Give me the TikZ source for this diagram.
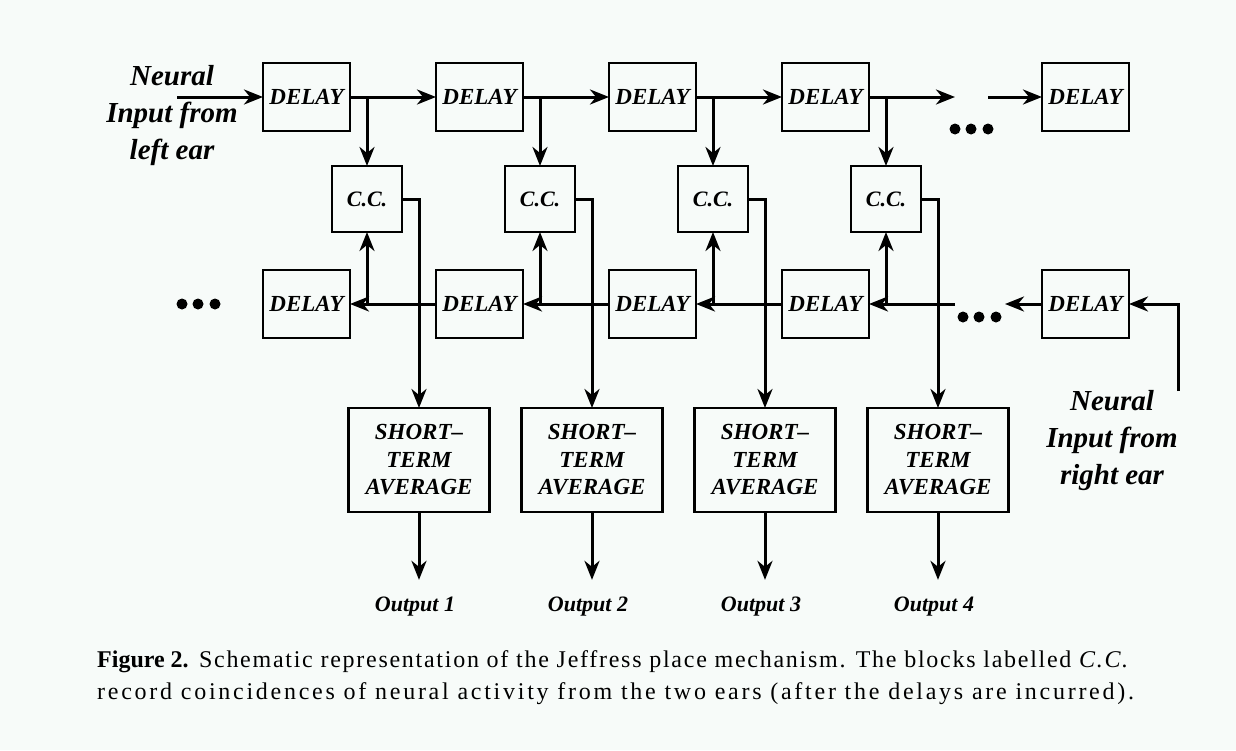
\documentclass[tikz,border=0pt]{standalone}
\usepackage{fontspec}
\setmainfont{Liberation Serif}
\newfontfamily\capfont[LetterSpace=7.2]{Liberation Serif}
\newfontfamily\capwidefont[LetterSpace=11.4]{Liberation Serif}
\usetikzlibrary{arrows.meta, positioning}
\definecolor{paper}{HTML}{F7FBF9}

\begin{document}
\begin{tikzpicture}[
  x=1pt, y=-1pt,
  delay/.style={draw, line width=2.8pt, minimum width=87pt, minimum height=68pt, inner sep=0pt, outer sep=0pt, font=\fontsize{23}{27}\selectfont\bfseries\itshape},
  cc/.style={draw, line width=2.8pt, minimum width=70pt, minimum height=66pt, inner sep=0pt, outer sep=0pt, font=\fontsize{22}{26}\selectfont\bfseries\itshape},
  avg/.style={draw, line width=2.8pt, minimum width=141pt, minimum height=104pt, inner sep=0pt, outer sep=0pt, align=center, font=\fontsize{23}{27.5}\selectfont\bfseries\itshape},
  out_lbl/.style={font=\fontsize{22}{26}\selectfont\bfseries\itshape},
  ear_lbl/.style={align=center, font=\fontsize{29}{37}\selectfont\bfseries\itshape},
  cap_lbl/.style={inner sep=0pt, font=\fontsize{24}{32}\selectfont},
  arrow/.style={-{Stealth[length=19pt, width=15pt, inset=6pt]}, line width=3pt}
]
  \fill[paper] (0,0) rectangle (1236,750);
  \useasboundingbox (0,0) rectangle (1236,750);

  % Upper delay line (left ear)
  \node[delay] (dA1) at (306.5,97) {DELAY};
  \node[delay, right=86pt of dA1] (dA2) {DELAY};
  \node[delay, right=86pt of dA2] (dA3) {DELAY};
  \node[delay, right=86pt of dA3] (dA4) {DELAY};
  \node[delay, right=173pt of dA4] (dA5) {DELAY};

  % Coincidence counters
  \node[cc] (cc1) at (367,199) {C.C.};
  \node[cc, right=103pt of cc1] (cc2) {C.C.};
  \node[cc, right=103pt of cc2] (cc3) {C.C.};
  \node[cc, right=103pt of cc3] (cc4) {C.C.};

  % Lower delay line (right ear)
  \node[delay] (dB1) at (306.5,304) {DELAY};
  \node[delay, right=86pt of dB1] (dB2) {DELAY};
  \node[delay, right=86pt of dB2] (dB3) {DELAY};
  \node[delay, right=86pt of dB3] (dB4) {DELAY};
  \node[delay, right=173pt of dB4] (dB5) {DELAY};

  % Averagers and outputs
  \node[avg] (st1) at (419,460) {SHORT–\\TERM\\AVERAGE};
  \node[avg, right=32pt of st1] (st2) {SHORT–\\TERM\\AVERAGE};
  \node[avg, right=32pt of st2] (st3) {SHORT–\\TERM\\AVERAGE};
  \node[avg, right=32pt of st3] (st4) {SHORT–\\TERM\\AVERAGE};

  \node[out_lbl] (out1) at (415,607) {Output 1};
  \node[out_lbl] (out2) at (588,607) {Output 2};
  \node[out_lbl] (out3) at (761,607) {Output 3};
  \node[out_lbl] (out4) at (934,607) {Output 4};

  \node[ear_lbl] (earL) at (172,116) {Neural\\Input from\\left ear};
  \node[ear_lbl] (earR) at (1112,441) {Neural\\Input from\\right ear};

  \coordinate (inL) at (177,97);
  \coordinate (inR) at (1178,391);
  \coordinate (gapA1) at (955,97);
  \coordinate (gapA2) at (988,97);
  \coordinate (gapB1) at (955,304);
  \coordinate (gapB2) at (1005,304);

  % upper line arrows
  \draw[arrow] (inL) -- (dA1);
  \draw[arrow] (dA1) -- (dA2);
  \draw[arrow] (dA2) -- (dA3);
  \draw[arrow] (dA3) -- (dA4);
  \draw[arrow] (dA4) -- (gapA1);
  \draw[arrow] (gapA2) -- (dA5);
  \draw[arrow] (cc1 |- dA1) -- (cc1);
  \draw[arrow] (cc2 |- dA2) -- (cc2);
  \draw[arrow] (cc3 |- dA3) -- (cc3);
  \draw[arrow] (cc4 |- dA4) -- (cc4);

  % lower line arrows
  \draw[arrow] (inR) |- (dB5);
  \draw[arrow] (dB5) -- (gapB2);
  \draw[arrow] (gapB1) -- (dB4);
  \draw[arrow] (dB4) -- (dB3);
  \draw[arrow] (dB3) -- (dB2);
  \draw[arrow] (dB2) -- (dB1);
  \draw[arrow] (cc1 |- dB1) -- (cc1);
  \draw[arrow] (cc2 |- dB2) -- (cc2);
  \draw[arrow] (cc3 |- dB3) -- (cc3);
  \draw[arrow] (cc4 |- dB4) -- (cc4);

  % coincidence outputs
  \draw[arrow] (cc1.east) -| (st1);
  \draw[arrow] (cc2.east) -| (st2);
  \draw[arrow] (cc3.east) -| (st3);
  \draw[arrow] (cc4.east) -| (st4);
  \draw[arrow, shorten >=14pt] (st1) -- (st1 |- out1.north);
  \draw[arrow, shorten >=14pt] (st2) -- (st2 |- out2.north);
  \draw[arrow, shorten >=14pt] (st3) -- (st3 |- out3.north);
  \draw[arrow, shorten >=14pt] (st4) -- (st4 |- out4.north);

  % ellipsis dots
  \foreach \dx in {0,16,33} {
    \fill (182+\dx,304) circle (5.5pt);
    \fill (955+\dx,129) circle (5.5pt);
    \fill (963+\dx,317) circle (5.5pt);
  }

  % caption
  \node[cap_lbl, anchor=base west] (capA) at (97,667) {\textbf{Figure 2.}\capfont{} Schematic representation of the Jeffress place mechanism. The blocks labelled \textit{C.C.}};
  \node[cap_lbl, anchor=base west] (capB) at (97,699) {\capwidefont record coincidences of neural activity from the two ears (after the delays are incurred).};

\end{tikzpicture}
\end{document}
